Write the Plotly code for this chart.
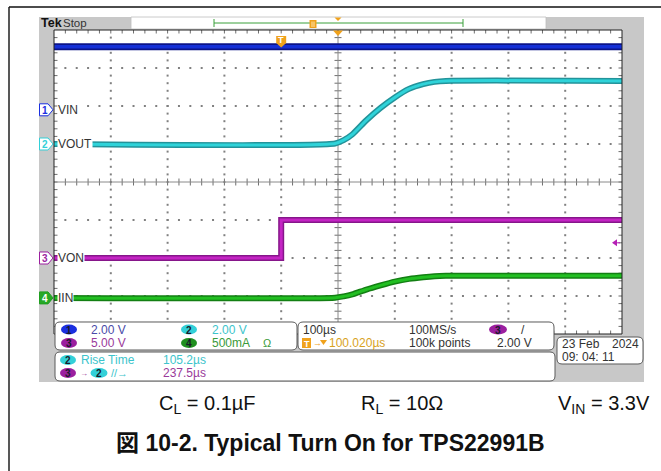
import numpy as np
import plotly.graph_objects as go

W, H = 661, 471

# ---- acquisition settings -------------------------------------------------
T_DIV = 100.0          # µs per division
T_POS = 100.02         # horizontal position (µs after trigger at screen centre)
N_HDIV, N_VDIV = 10, 8

CH_SCALE = {1: 2.0, 2: 2.0, 3: 5.0, 4: 0.5}    # V/div (A/div for CH4)
CH_POS = {1: 1.9, 2: 1.0, 3: -2.0, 4: -3.05}    # ground position in divisions
CH_NAME = {1: "VIN", 2: "VOUT", 3: "VON", 4: "IIN"}

# ---- captured waveforms (time in µs relative to trigger) -------------------
vin_t = [-400, 600]
vin_v = [3.32, 3.32]

vout_t = [-400, 95, 110, 125, 150, 175, 200, 225, 250, 270, 290, 600]
vout_v = [0.0, 0.03, 0.2, 0.5, 1.25, 1.9, 2.45, 2.9, 3.15, 3.27, 3.32, 3.32]

von_t = [-400, 0, 0, 600]
von_v = [0.0, 0.0, 5.0, 5.0]

iin_t = [-400, 95, 110, 125, 150, 175, 200, 225, 250, 270, 290, 600]
iin_a = [0.0, 0.003, 0.02, 0.045, 0.11, 0.165, 0.215, 0.25, 0.272, 0.285, 0.29, 0.29]

# ---- screen geometry (pixels) ----------------------------------------------
GX0, GX1, GY0, GY1 = 54, 622, 30, 334
DIVX = (GX1 - GX0) / N_HDIV
DIVY = (GY1 - GY0) / N_VDIV


def px(x):
    return x / W


def py(y):
    return 1 - y / H


def ch_ypix(ch, value=0.0):
    div = CH_POS[ch] + value / CH_SCALE[ch]
    return (GY0 + GY1) / 2 - div * DIVY


T0 = T_POS - N_HDIV / 2 * T_DIV
T1 = T_POS + N_HDIV / 2 * T_DIV

FN = "Liberation Sans Narrow, Arial Narrow, Liberation Sans, sans-serif"
FA = "Liberation Sans, Arial, Noto Sans CJK JP, sans-serif"
FS = 12   # readout font size

COL = {
    1: ("#0c1488", "#1530d6"),
    2: ("#23939a", "#2fd3d9"),
    3: ("#86168a", "#c424c4"),
    4: ("#137f13", "#22bf22"),
}
OVAL = {1: "#1a2fe0", 2: "#33d0d8", 3: "#9b1f9f", 4: "#1f8f1f"}
TXT = {1: "#4a4aa8", 2: "#3cc4cc", 3: "#9a3a9a", 4: "#3a9a3a"}
ORANGE = "#f0a21c"

fig = go.Figure()

# ---- graticule -----------------------------------------------------------------
gx, gy = [], []
for k in range(1, N_HDIV):
    if k == N_HDIV // 2:
        continue
    for m in range(1, N_VDIV * 5):
        gx.append(T0 + k * T_DIV)
        gy.append(-N_VDIV / 2 + m * 0.2)
for j in range(1, N_VDIV):
    if j == N_VDIV // 2:
        continue
    for m in range(1, N_HDIV * 5):
        gx.append(T0 + m * 0.2 * T_DIV)
        gy.append(-N_VDIV / 2 + j)
fig.add_trace(go.Scatter(x=gx, y=gy, mode="markers", hoverinfo="skip", showlegend=False,
                         marker=dict(symbol="square", size=2, color="#808080", line=dict(width=0))))

tlx = 3.5 / DIVX * T_DIV
tly = 3.5 / DIVY
tx, ty = [], []
for m in range(1, N_HDIV * 5):
    t = T0 + m * 0.2 * T_DIV
    tx += [t, t, None, t, t, None, t, t, None]
    ty += [-tly, tly, None, 4, 4 - tly, None, -4, -4 + tly, None]
for m in range(1, N_VDIV * 5):
    d = -N_VDIV / 2 + m * 0.2
    tx += [T_POS - tlx, T_POS + tlx, None, T0, T0 + tlx, None, T1, T1 - tlx, None]
    ty += [d, d, None, d, d, None, d, d, None]
fig.add_trace(go.Scatter(x=tx, y=ty, mode="lines", hoverinfo="skip", showlegend=False,
                         line=dict(color="#6e6e6e", width=1)))
fig.add_trace(go.Scatter(x=[T0, T1, None, T_POS, T_POS], y=[0, 0, None, -4, 4], mode="lines",
                         hoverinfo="skip", showlegend=False, line=dict(color="#8a8a8a", width=1)))

# ---- waveforms -------------------------------------------------------------------
waves = [
    (1, vin_t, vin_v, "linear", 7, 3.5),
    (2, vout_t, vout_v, "spline", 6, 3),
    (3, von_t, von_v, "linear", 6, 3),
    (4, iin_t, iin_a, "spline", 6, 3),
]
for ch, t, v, shape, w_out, w_in in waves:
    dark, bright = COL[ch]
    for c, w in ((dark, w_out), (bright, w_in)):
        fig.add_trace(go.Scatter(x=t, y=v, yaxis=f"y{ch + 1}", mode="lines", hoverinfo="skip",
                                 showlegend=False,
                                 line=dict(color=c, width=w, shape=shape, smoothing=0.6)))

shapes = []
ann = []


def rect(x0, y0, x1, y1, fill, line="rgba(0,0,0,0)", lw=0, layer="below"):
    shapes.append(dict(type="rect", xref="paper", yref="paper", x0=px(x0), x1=px(x1),
                       y0=py(y1), y1=py(y0), fillcolor=fill, line=dict(color=line, width=lw),
                       layer=layer))


def path(points, fill, line="rgba(0,0,0,0)", lw=0, layer="above", close=True):
    d = "M " + " L ".join(f"{px(a):.5f},{py(b):.5f}" for a, b in points)
    if close:
        d += " Z"
    shapes.append(dict(type="path", xref="paper", yref="paper", path=d, fillcolor=fill,
                       line=dict(color=line, width=lw), layer=layer))


def rrect(x0, y0, x1, y1, r=5, fill="white", line="#5a5a5a", lw=1, layer="above"):
    P = lambda a, b: f"{px(a):.5f},{py(b):.5f}"
    d = (f"M {P(x0 + r, y0)} L {P(x1 - r, y0)} Q {P(x1, y0)} {P(x1, y0 + r)} "
         f"L {P(x1, y1 - r)} Q {P(x1, y1)} {P(x1 - r, y1)} L {P(x0 + r, y1)} "
         f"Q {P(x0, y1)} {P(x0, y1 - r)} L {P(x0, y0 + r)} Q {P(x0, y0)} {P(x0 + r, y0)} Z")
    shapes.append(dict(type="path", xref="paper", yref="paper", path=d, fillcolor=fill,
                       line=dict(color=line, width=lw), layer=layer))


def text(x, y, s, size=FS, color="#3a3a3a", family=FN, anchor="left", bg=None, **kw):
    a = dict(xref="paper", yref="paper", x=px(x), y=py(y), text=s, showarrow=False,
             xanchor=anchor, yanchor="middle", font=dict(size=size, color=color, family=family),
             borderpad=0)
    if bg:
        a["bgcolor"] = bg
    a.update(kw)
    ann.append(a)


def oval(cx, cy, s, fill, w=16, h=10, tcolor="#1a1a2a"):
    shapes.append(dict(type="circle", xref="paper", yref="paper", x0=px(cx - w / 2), x1=px(cx + w / 2),
                       y0=py(cy + h / 2), y1=py(cy - h / 2), fillcolor=fill, line=dict(width=0),
                       layer="above"))
    text(cx, cy + 0.5, f"<b>{s}</b>", size=10, color=tcolor, anchor="center")


# page frame
shapes.append(dict(type="line", xref="paper", yref="paper", x0=px(9), x1=1.0, y0=py(7), y1=py(7),
                   line=dict(color="#111111", width=1.4)))
shapes.append(dict(type="line", xref="paper", yref="paper", x0=px(9), x1=px(9), y0=py(7), y1=0,
                   line=dict(color="#111111", width=1.4)))

# instrument screen background and graticule area
rect(39, 17, 644, 382, "#c8c8c8")
rect(GX0, GY0, GX1, GY1, "white")
shapes.append(dict(type="rect", xref="paper", yref="paper", x0=px(GX0), x1=px(GX1), y0=py(GY1),
                   y1=py(GY0), line=dict(color="#222222", width=1), layer="above"))

# header: brand, run state, record view
text(40, 23.5, "<b>Tek</b>", size=12.5, color="#111111", family=FA)
text(61.5, 23.5, "Stop", size=11.5, color="#333333")
rect(131, 17, 546, 29, "white", "#bdbdbd", 0.8)
shapes.append(dict(type="line", xref="paper", yref="paper", x0=px(214), x1=px(463), y0=py(23), y1=py(23),
                   line=dict(color="#3aa03a", width=1)))
for xe in (214, 463):
    shapes.append(dict(type="line", xref="paper", yref="paper", x0=px(xe), x1=px(xe), y0=py(19),
                       y1=py(27), line=dict(color="#3aa03a", width=1)))
path([(309.5, 20), (316.5, 20), (316.5, 28), (309.5, 28)], ORANGE)
path([(311.5, 21.5), (312.5, 21.5), (312.5, 27), (311.5, 27)], "#ffe6b0")
path([(313.5, 21.5), (314.5, 21.5), (314.5, 27), (313.5, 27)], "#ffe6b0")
path([(334.5, 17.5), (341.5, 17.5), (338, 21)], ORANGE)

# expansion point and trigger position markers on graticule
cx_pix = GX0 + (T_POS - T0) / (T1 - T0) * (GX1 - GX0)
path([(cx_pix - 5, 30.5), (cx_pix + 5, 30.5), (cx_pix, 36)], ORANGE)
trig_x = GX0 + (0 - T0) / (T1 - T0) * (GX1 - GX0)
path([(trig_x - 5, 36), (trig_x + 5, 36), (trig_x + 5, 43), (trig_x, 47.5), (trig_x - 5, 43)], ORANGE)
text(trig_x, 40.5, "<b>T</b>", size=9, color="white", family=FA, anchor="center")

# channel ground markers and labels
for ch in (1, 2, 3, 4):
    yc = ch_ypix(ch)
    edge = OVAL[ch] if ch != 4 else "#1f9f1f"
    fill = "white" if ch != 4 else "#27a827"
    path([(39.5, yc - 6), (48, yc - 6), (53, yc), (48, yc + 6), (39.5, yc + 6)], fill, edge, 1)
    text(44.5, yc + 0.5, f"<b>{ch}</b>", size=10, color=(edge if ch != 4 else "white"),
         anchor="center")
    text(56.5, yc, CH_NAME[ch], size=12, color="#333333", bg="white")

# trigger level indicator (CH3, 2.00 V)
trig_lvl_y = ch_ypix(3, 2.0)
path([(612, trig_lvl_y), (617, trig_lvl_y - 3.5), (617, trig_lvl_y + 3.5)], "#b51fb5")
shapes.append(dict(type="line", xref="paper", yref="paper", x0=px(616), x1=px(620), y0=py(trig_lvl_y),
                   y1=py(trig_lvl_y), line=dict(color="#b51fb5", width=1)))

# readout boxes
rrect(55, 322, 297, 350)
rrect(298, 322, 554, 350)
rrect(55, 352, 555, 381)
rrect(557, 337, 643, 364)

R1, R2 = 329.5, 343
oval(69, R1, "1", OVAL[1])
text(90, R1, "2.00 V", color=TXT[1])
oval(189, R1, "2", OVAL[2])
text(211, R1, "2.00 V", color=TXT[2])
oval(69, R2, "3", OVAL[3])
text(90, R2, "5.00 V", color=TXT[3])
oval(189, R2, "4", OVAL[4])
text(211, R2, "500mA", color=TXT[4])
text(262, R2, "Ω", size=11, color=TXT[4])

text(302, R1, "100µs", color="#333333")
path([(302, R2 - 5), (311, R2 - 5), (311, R2 + 5), (302, R2 + 5)], ORANGE)
text(306.5, R2 + 0.5, "<b>T</b>", size=9, color="white", family=FA, anchor="center")
text(312, R2, "→", size=9, color=ORANGE, family=FA)
path([(320, R2 - 3), (327, R2 - 3), (323.5, R2 + 2)], ORANGE)
text(328, R2, "100.020µs", color="#d8a21e")
text(408, R1, "100MS/s", color="#333333")
text(408, R2, "100k points", color="#333333")
oval(498, R1, "3", OVAL[3], w=18)
text(520, R1, "/", color="#333333")
text(533, R2, "2.00 V", color="#333333", anchor="right")

C1, C2 = 360, 373
oval(68, C1, "2", OVAL[2])
text(80, C1, "Rise Time", color=TXT[2])
text(162, C1, "105.2µs", color=TXT[2])
oval(68, C2, "3", OVAL[3])
text(78.5, C2, "→", size=8, color=TXT[3], family=FA)
oval(99, C2, "2", OVAL[2], w=17)
text(110, C2, "//→", size=11, color=TXT[2])
text(162, C2, "237.5µs", color=TXT[3])

text(561, 343.5, "23 Feb", color="#333333")
text(640, 343.5, "2024", color="#333333", anchor="right")
text(561, 357, "09: 04: 11", color="#333333")

# test conditions and caption
text(158, 404, "C<sub>L</sub> = 0.1µF", size=20, color="#111111", family=FA)
text(360, 404, "R<sub>L</sub> = 10Ω", size=20, color="#111111", family=FA)
text(651, 404, "V<sub>IN</sub> = 3.3V", size=20, color="#111111", family=FA, anchor="right")
text(330, 443, "<b>図 10-2. Typical Turn On for TPS22991B</b>", size=23, color="#111111",
     family=FA, anchor="center")

# ---- axes ----------------------------------------------------------------------------
dom_x = [px(GX0), px(GX1)]
dom_y = [py(GY1), py(GY0)]
hidden = dict(visible=False, fixedrange=True, showgrid=False, zeroline=False)
layout = dict(
    width=W, height=H, margin=dict(l=0, r=0, t=0, b=0),
    paper_bgcolor="white", plot_bgcolor="rgba(0,0,0,0)",
    xaxis=dict(domain=dom_x, range=[T0, T1], **hidden),
    yaxis=dict(domain=dom_y, range=[-N_VDIV / 2, N_VDIV / 2], **hidden),
    shapes=shapes, annotations=ann, showlegend=False,
)
for ch in (1, 2, 3, 4):
    lo = (-N_VDIV / 2 - CH_POS[ch]) * CH_SCALE[ch]
    hi = (N_VDIV / 2 - CH_POS[ch]) * CH_SCALE[ch]
    layout[f"yaxis{ch + 1}"] = dict(overlaying="y", range=[lo, hi], **hidden)
fig.update_layout(**layout)

fig.write_html("out.html")
